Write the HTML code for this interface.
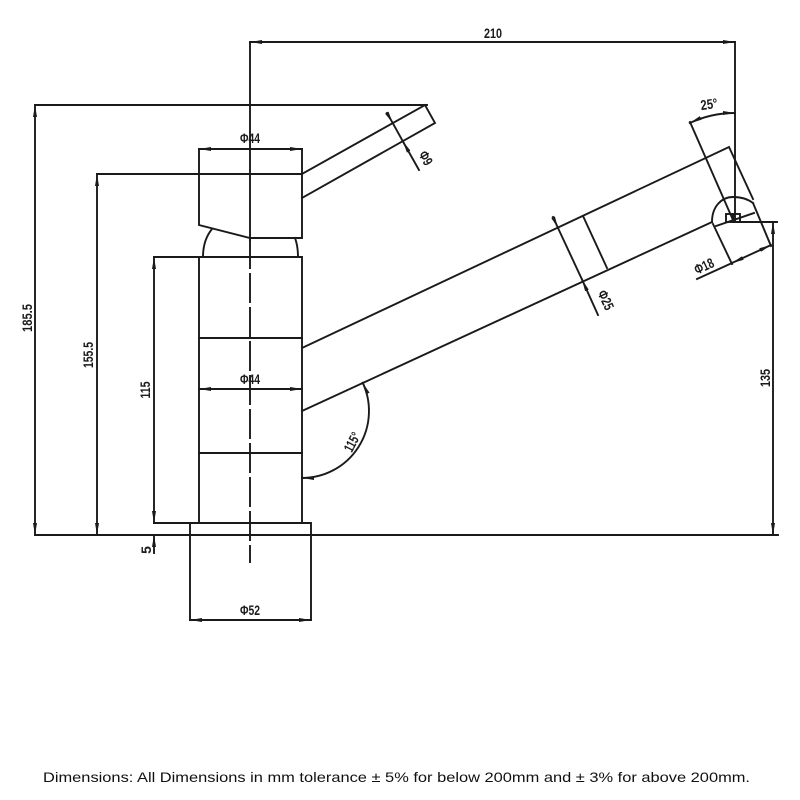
<!DOCTYPE html>
<html>
<head>
<meta charset="utf-8">
<style>
  html,body{margin:0;padding:0;background:#fff;}
  body{width:800px;height:800px;overflow:hidden;}
  svg{display:block;}
  .l{stroke:#1a1a1a;stroke-width:1.9;fill:none;stroke-linecap:square;}
  .t{font-family:"Liberation Sans",sans-serif;font-size:14px;fill:#1a1a1a;font-weight:600;}
  .f{font-family:"Liberation Sans",sans-serif;font-size:14px;fill:#111;}
</style>
</head>
<body>
<svg width="800" height="800" viewBox="0 0 800 800" xmlns="http://www.w3.org/2000/svg">
  <defs>
    <marker id="a" viewBox="0 0 12 4" refX="12" refY="2" markerWidth="12" markerHeight="4" markerUnits="userSpaceOnUse" orient="auto-start-reverse">
      <path d="M0,0 L12,2 L0,4 z" fill="#1a1a1a"/>
    </marker>
  </defs>
  <rect width="800" height="800" fill="#fff"/>

  <!-- 210 dimension -->
  <path class="l" d="M250,42 H735" marker-start="url(#a)" marker-end="url(#a)"/>
  <text class="t" x="493" y="38" text-anchor="middle" textLength="18" lengthAdjust="spacingAndGlyphs">210</text>

  <!-- centre line -->
  <path class="l" d="M250,42 V240"/>
  <path class="l" d="M250,240 V562" stroke-dasharray="28,6"/>

  <!-- nozzle vertical -->
  <path class="l" d="M735,42 V222"/>

  <!-- 185.5 -->
  <path class="l" d="M35,105 H427"/>
  <path class="l" d="M35,105 V535" marker-start="url(#a)" marker-end="url(#a)"/>
  <text class="t" transform="translate(27,318) rotate(-90)" text-anchor="middle" dominant-baseline="central" textLength="28" lengthAdjust="spacingAndGlyphs">185.5</text>

  <!-- handle lever -->
  <path class="l" d="M302,174 L425,105 L435,123 L302,198"/>
  <path class="l" d="M387,113 L392.7,123" marker-end="url(#a)"/>
  <path class="l" d="M392.7,123 L402.8,141.2"/>
  <path class="l" d="M419,170 L402.8,141.2" marker-end="url(#a)"/>
  <text class="t" transform="translate(426,158) rotate(61)" text-anchor="middle" dominant-baseline="central" textLength="14" lengthAdjust="spacingAndGlyphs">Φ9</text>

  <!-- handle body -->
  <path class="l" d="M199,149 V225 L250,238 H302 V149"/>
  <path class="l" d="M199,149 H302" marker-start="url(#a)" marker-end="url(#a)"/>
  <text class="t" x="250" y="143" text-anchor="middle" textLength="20" lengthAdjust="spacingAndGlyphs">Φ44</text>
  <path class="l" d="M97,174 H302"/>

  <!-- dome -->
  <path class="l" d="M212,229 Q203,240 203,257"/>
  <path class="l" d="M295,238 Q298,246 298,257"/>

  <!-- body -->
  <path class="l" d="M154,257 H302 V523 M199,257 V523"/>
  <path class="l" d="M199,338 H302 M199,453 H302"/>
  <path class="l" d="M199,389 H302" marker-start="url(#a)" marker-end="url(#a)"/>
  <text class="t" x="250" y="384" text-anchor="middle" textLength="20" lengthAdjust="spacingAndGlyphs">Φ44</text>

  <!-- 155.5 -->
  <path class="l" d="M97,174 V535" marker-start="url(#a)" marker-end="url(#a)"/>
  <text class="t" transform="translate(88,355) rotate(-90)" text-anchor="middle" dominant-baseline="central" textLength="26" lengthAdjust="spacingAndGlyphs">155.5</text>

  <!-- 115 / 5 -->
  <path class="l" d="M154,257 V523" marker-start="url(#a)" marker-end="url(#a)"/>
  <path class="l" d="M154,553 V535" marker-end="url(#a)"/>
  <text class="t" transform="translate(145,390) rotate(-90)" text-anchor="middle" dominant-baseline="central" textLength="17" lengthAdjust="spacingAndGlyphs">115</text>
  <text class="t" transform="translate(146,550) rotate(-90)" text-anchor="middle" dominant-baseline="central">5</text>

  <!-- base -->
  <path class="l" d="M154,523 H311 V620 M190,523 V620"/>
  <path class="l" d="M190,620 H311" marker-start="url(#a)" marker-end="url(#a)"/>
  <text class="t" x="250" y="615" text-anchor="middle" textLength="20" lengthAdjust="spacingAndGlyphs">Φ52</text>

  <!-- ground line -->
  <path class="l" d="M35,535 H778"/>

  <!-- spout -->
  <path class="l" d="M302,348 L729,147 L753,199"/>
  <path class="l" d="M302,411 L712,222"/>
  <path class="l" d="M712,222 C712,206 722,197 733,197 C742,197 749,200 753,203"/>
  <path class="l" d="M716,226 L754,213"/>
  <rect x="726" y="214" width="7" height="8" class="l"/>
  <rect x="733" y="214" width="7" height="8" class="l"/>

  <!-- band line & Φ25 -->
  <path class="l" d="M583,216 L607,268"/>
  <path class="l" d="M553,217 L558,228" marker-end="url(#a)"/>
  <path class="l" d="M558,228 L582,279.5"/>
  <path class="l" d="M598,315 L582,279.5" marker-end="url(#a)"/>
  <text class="t" transform="translate(606,300) rotate(65)" text-anchor="middle" dominant-baseline="central" textLength="20" lengthAdjust="spacingAndGlyphs">Φ25</text>

  <!-- 115° angle -->
  <path class="l" d="M362.7,382.7 A67,67 0 0 1 302,478" marker-start="url(#a)" marker-end="url(#a)"/>
  <text class="t" transform="translate(352,442) rotate(-62)" text-anchor="middle" dominant-baseline="central" textLength="20" lengthAdjust="spacingAndGlyphs">115°</text>

  <!-- 25° angle -->
  <path class="l" d="M690,122 L733,220"/>
  <path class="l" d="M735,113 A107,107 0 0 0 689.8,123" marker-start="url(#a)" marker-end="url(#a)"/>
  <text class="t" transform="translate(709,104) rotate(-8)" text-anchor="middle" dominant-baseline="central" textLength="17" lengthAdjust="spacingAndGlyphs">25°</text>

  <!-- 135 -->
  <path class="l" d="M735,222 H777"/>
  <path class="l" d="M773,222 V535" marker-start="url(#a)" marker-end="url(#a)"/>
  <text class="t" transform="translate(765,378) rotate(-90)" text-anchor="middle" dominant-baseline="central" textLength="18" lengthAdjust="spacingAndGlyphs">135</text>

  <!-- Φ18 -->
  <path class="l" d="M713,224 L732,264"/>
  <path class="l" d="M753,203 L771,246"/>
  <path class="l" d="M697,279 L732,263"/>
  <path class="l" d="M732,263 L771,245" marker-start="url(#a)" marker-end="url(#a)"/>
  <text class="t" transform="translate(704,266) rotate(-25)" text-anchor="middle" dominant-baseline="central" textLength="20" lengthAdjust="spacingAndGlyphs">Φ18</text>

  <!-- footer -->
  <text class="f" x="43" y="782" textLength="707" lengthAdjust="spacingAndGlyphs">Dimensions: All Dimensions in mm tolerance ± 5% for below 200mm and ± 3% for above 200mm.</text>
</svg>
</body>
</html>
